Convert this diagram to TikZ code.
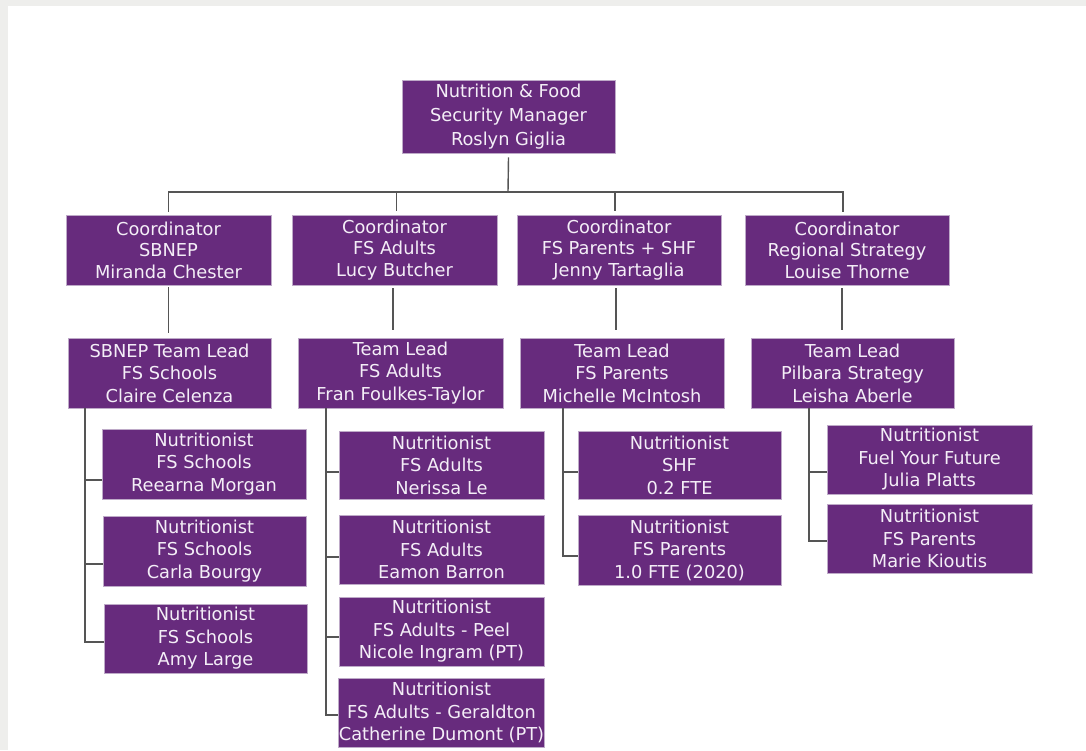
\documentclass[tikz,border=0pt]{standalone}
\usepackage{fontspec}
\setmainfont{DejaVu Sans}
\definecolor{boxfill}{RGB}{103,43,125}
\definecolor{boxedge}{RGB}{190,170,200}
\definecolor{boxtext}{RGB}{244,238,247}
\definecolor{linegray}{RGB}{85,85,85}
\definecolor{pagegray}{RGB}{238,238,236}
\tikzset{
  role/.style={draw=boxedge, line width=0.8pt, fill=boxfill, text=boxtext,
    align=center, inner sep=0pt, anchor=center,
    font=\fontsize{17.8}{22.5}\selectfont},
  conn/.style={draw=linegray, line width=1.4pt},
}
% place a role box from its pixel corners (x1,y1) to (x2,y2)
\newcommand{\rolebox}[6][]{%
  \node[role,#1, minimum width={(#4)-(#2)}, minimum height={(#5)-(#3)}]
    (#6) at ({((#2)+(#4))/2},{((#3)+(#5))/2})}
\begin{document}
\begin{tikzpicture}[x=1pt,y=-1pt]
\fill[pagegray] (0,0) rectangle (1086,750);
\fill[white] (8,6) rectangle (1086,750);
\useasboundingbox (0,0) rectangle (1086,750);

% manager
\rolebox[font=\fontsize{17.8}{24}\selectfont]{402}{80}{615}{153}{top} {Nutrition \& Food\\Security Manager\\Roslyn Giglia};

% coordinators
\rolebox[font=\fontsize{17.8}{21.5}\selectfont]{66}{215}{271}{285}{c1} {Coordinator\\SBNEP\\Miranda Chester};
\rolebox[font=\fontsize{17.8}{21.5}\selectfont]{292}{215}{497}{285}{c2} {Coordinator\\FS Adults\\Lucy Butcher};
\rolebox[font=\fontsize{17.8}{21.5}\selectfont]{517}{215}{721}{285}{c3} {Coordinator\\FS Parents + SHF\\Jenny Tartaglia};
\rolebox[font=\fontsize{17.8}{21.5}\selectfont]{745}{215}{949}{285}{c4} {Coordinator\\Regional Strategy\\Louise Thorne};

% team leads
\rolebox{68}{338}{271}{408}{t1} {SBNEP Team Lead\\FS Schools\\Claire Celenza};
\rolebox{298}{338}{503}{408}{t2} {Team Lead\\FS Adults\\Fran Foulkes-Taylor};
\rolebox{520}{338}{724}{408}{t3} {Team Lead\\FS Parents\\Michelle McIntosh};
\rolebox{751}{338}{954}{408}{t4} {Team Lead\\Pilbara Strategy\\Leisha Aberle};

% nutritionists
\rolebox{102}{429}{306}{499}{n1a} {Nutritionist\\FS Schools\\Reearna Morgan};
\rolebox{103}{516}{306}{586}{n1b} {Nutritionist\\FS Schools\\Carla Bourgy};
\rolebox{104}{604}{307}{673}{n1c} {Nutritionist\\FS Schools\\Amy Large};

\rolebox{339}{431}{544}{499}{n2a} {Nutritionist\\FS Adults\\Nerissa Le};
\rolebox{339}{515}{544}{584}{n2b} {Nutritionist\\FS Adults\\Eamon Barron};
\rolebox{339}{597}{544}{666}{n2c} {Nutritionist\\FS Adults - Peel\\Nicole Ingram (PT)};
\rolebox{339}{678}{544}{747}{n2d} {Nutritionist\\FS Adults - Geraldton\\Catherine Dumont (PT)};

\rolebox{578}{431}{781}{499}{n3a} {Nutritionist\\SHF\\0.2 FTE};
\rolebox{578}{515}{781}{585}{n3b} {Nutritionist\\FS Parents\\1.0 FTE (2020)};

\rolebox{827}{425}{1032}{494}{n4a} {Nutritionist\\Fuel Your Future\\Julia Platts};
\rolebox{827}{504}{1032}{573}{n4b} {Nutritionist\\FS Parents\\Marie Kioutis};

% manager to coordinators
\coordinate (bus) at (508,192);
\draw[conn] ([yshift=-4pt]top.south) -- (bus);
\draw[conn] ([yshift=3pt]c1.north) -- (c1.north |- bus) -- ([xshift=-4pt]c4.north |- bus) -- ([xshift=-4pt,yshift=3pt]c4.north);
\draw[conn] ([xshift=2pt]c2.north |- bus) -- ([xshift=2pt,yshift=4pt]c2.north);
\draw[conn] ([xshift=-4pt]c3.north |- bus) -- ([xshift=-4pt,yshift=4pt]c3.north);

% coordinators to team leads (vertical drops)
\path ([yshift=5pt]t1.north) coordinate (t1top)
      ([yshift=8pt]t2.north) coordinate (t2top)
      ([yshift=8pt]t3.north) coordinate (t3top)
      ([yshift=8pt]t4.north) coordinate (t4top)
      ([yshift=-2pt]c1.south) coordinate (c1bot)
      ([xshift=-1.5pt,yshift=-3pt]c2.south) coordinate (c2bot)
      ([xshift=-3pt,yshift=-3pt]c3.south) coordinate (c3bot)
      ([xshift=-5pt,yshift=-3pt]c4.south) coordinate (c4bot);
\draw[conn] (c1bot) -- (c1bot |- t1top);
\draw[conn] (c2bot) -- (c2bot |- t2top);
\draw[conn] (c3bot) -- (c3bot |- t3top);
\draw[conn] (c4bot) -- (c4bot |- t4top);

% team leads to nutritionists
\coordinate (k1) at (85,408);
\coordinate (k2) at (326,408);
\coordinate (k3) at (563,408);
\coordinate (k4) at (809,408);

\draw[conn] (k1) |- ([yshift=-16pt]n1a.west);
\draw[conn] (k1) |- ([yshift=-13pt]n1b.west);
\draw[conn] (k1) |- ([yshift=-3.5pt]n1c.west);

\draw[conn] (k2) |- ([yshift=-7pt]n2a.west);
\draw[conn] (k2) |- ([yshift=-7.5pt]n2b.west);
\draw[conn] (k2) |- ([yshift=-5.5pt]n2c.west);
\draw[conn] (k2) |- ([yshift=-2.5pt]n2d.west);

\draw[conn] (k3) |- ([yshift=-7pt]n3a.west);
\draw[conn] (k3) |- ([yshift=-6pt]n3b.west);

\draw[conn] (k4) |- ([yshift=-12.5pt]n4a.west);
\draw[conn] (k4) |- ([yshift=-2.5pt]n4b.west);
\end{tikzpicture}
\end{document}
